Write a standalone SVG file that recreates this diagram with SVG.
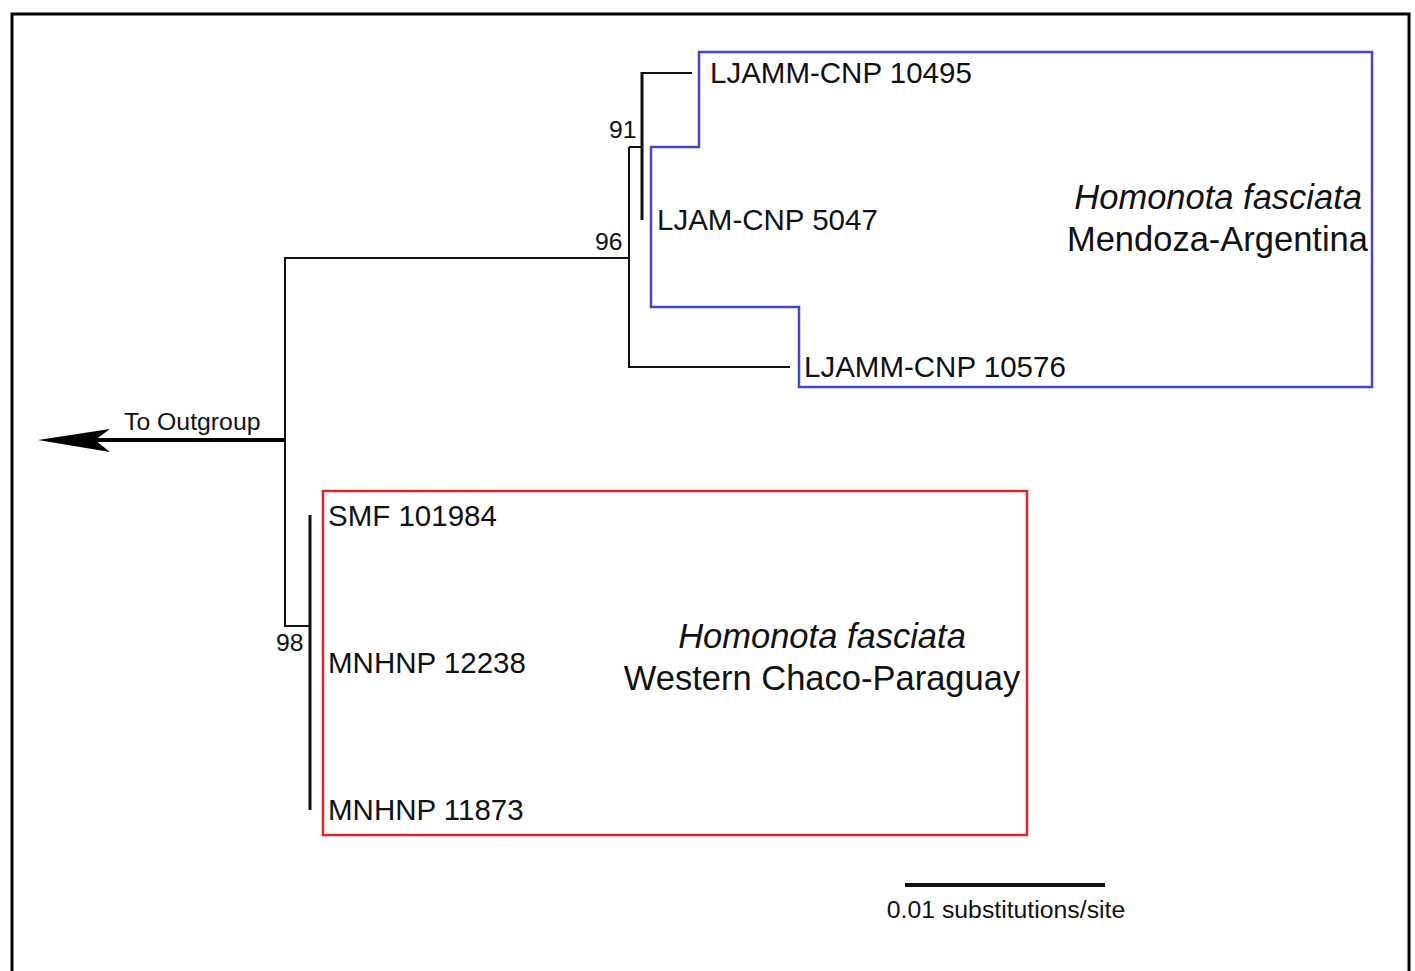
<svg xmlns="http://www.w3.org/2000/svg" width="1415" height="971" viewBox="0 0 1415 971">
<style>
text{font-family:"Liberation Sans",Arial,sans-serif;fill:#111}
.leaf{font-size:29.5px}
.tax{font-size:34.5px}
.sm{font-size:24.8px}
.it{font-style:italic}
.br{stroke:#111;fill:none;stroke-width:2}
.thk{stroke:#111;fill:none;stroke-width:3}
</style>
<rect width="1415" height="971" fill="#fff"/>
<path d="M12,980 V14 H1409 V980" fill="none" stroke="#000" stroke-width="3"/>
<g id="connectors">
<path class="br" d="M285,258 H629 M285,257 V626 H311"/>
<path class="br" d="M629,147 V367 H790 M629,147 H642 M642,73 H692"/>
<path class="thk" d="M642,72 V220"/>
<path class="thk" d="M310,515 V810"/>
<path d="M285,440 H95" stroke="#000" stroke-width="4"/>
<polygon points="38,440 110,429 95,440 110,452" fill="#000"/>
</g>
<g id="box-mendoza"><polygon points="699,52 1372,52 1372,387 799,387 799,307 651,307 651,147 699,147" fill="none" stroke="#4646c8" stroke-width="2.5"/></g>
<g id="box-chaco"><rect x="323" y="491" width="704" height="344" fill="none" stroke="#e0202c" stroke-width="2.5"/></g>
<g id="labels-support">
<text class="sm" x="609" y="138">91</text>
<text class="sm" x="595" y="250">96</text>
<text class="sm" x="276" y="651">98</text>
<text class="sm" x="124" y="430">To Outgroup</text>
</g>
<g id="leaf-10495"><text class="leaf" x="710" y="83">LJAMM-CNP 10495</text></g>
<g id="leaf-5047"><text class="leaf" x="657" y="230">LJAM-CNP 5047</text></g>
<g id="leaf-10576"><text class="leaf" x="804" y="377">LJAMM-CNP 10576</text></g>
<g id="leaf-101984"><text class="leaf" x="328" y="526">SMF 101984</text></g>
<g id="leaf-12238"><text class="leaf" x="328" y="673">MNHNP 12238</text></g>
<g id="leaf-11873"><text class="leaf" x="328" y="820">MNHNP 11873</text></g>
<g id="taxon-mendoza">
<text class="tax it" x="1362" y="209" text-anchor="end">Homonota fasciata</text>
<text class="tax" x="1368" y="251" text-anchor="end">Mendoza-Argentina</text>
</g>
<g id="taxon-chaco">
<text class="tax it" x="822" y="648" text-anchor="middle">Homonota fasciata</text>
<text class="tax" x="822" y="690" text-anchor="middle">Western Chaco-Paraguay</text>
</g>
<g id="scale">
<path d="M905,885 H1105" stroke="#111" stroke-width="4"/>
<text class="sm" x="1006" y="918" text-anchor="middle">0.01 substitutions/site</text>
</g>
</svg>
